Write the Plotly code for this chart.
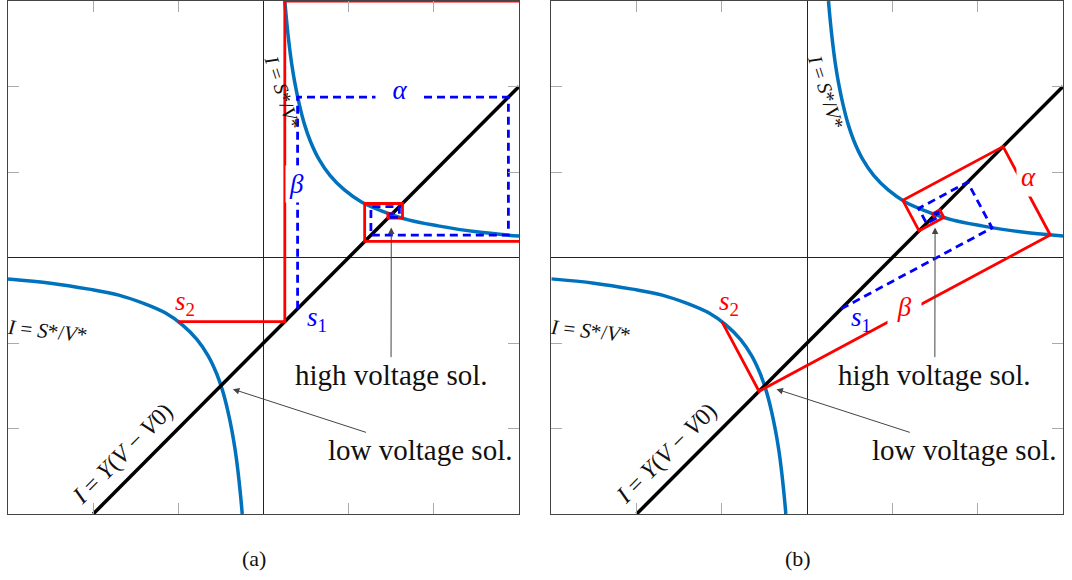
import plotly.graph_objects as go

# ---------------- data ----------------
# hyperbola I = S*/V*  (upper and lower branches)
CURVE_UP_V = [0.25, 0.27, 0.30, 0.33, 0.37, 0.42, 0.48, 0.55, 0.65, 0.78, 0.95, 1.15, 1.40, 1.70, 2.05, 2.50, 3.00]
CURVE_UP_I = [3.00, 2.78, 2.50, 2.27, 2.03, 1.79, 1.56, 1.36, 1.15, 0.96, 0.79, 0.65, 0.54, 0.44, 0.37, 0.30, 0.25]
CURVE_LO_V = [-3.00, -2.50, -2.05, -1.70, -1.40, -1.15, -0.95, -0.78, -0.65, -0.55, -0.48, -0.42, -0.37, -0.33, -0.30, -0.27, -0.25]
CURVE_LO_I = [-0.25, -0.30, -0.37, -0.44, -0.54, -0.65, -0.79, -0.96, -1.15, -1.36, -1.56, -1.79, -2.03, -2.27, -2.50, -2.78, -3.00]
# straight line I = Y(V - V0)
LINE_V = [-2.0, 3.0]
LINE_I = [-3.0, 2.0]

# panel (a): iteration paths
RED_A_V = [-1.0, 0.25, 0.25, 4.0, 4.0, 1.1875, 1.1875, 1.6316, 1.6316, 1.4597, 1.4597, 1.5138, 1.5138, 1.4954, 1.4954]
RED_A_I = [-0.75, -0.75, 3.0, 3.0, 0.1875, 0.1875, 0.6316, 0.6316, 0.4597, 0.4597, 0.5138, 0.5138, 0.4954, 0.4954, 0.5015]
BLUE_A_V = [0.4, 0.4, 2.875, 2.875, 1.2609, 1.2609, 1.5948, 1.5948, 1.4703, 1.4703, 1.5101, 1.5101]
BLUE_A_I = [-0.6, 1.875, 1.875, 0.2609, 0.2609, 0.5948, 0.5948, 0.4703, 0.4703, 0.5101, 0.5101, 0.4967]

# panel (b): iteration paths
RED_B_V = [-1.0, -0.5643, 2.8513, 2.2978, 1.1218, 1.3124, 1.6030, 1.5559, 1.4703, 1.4842, 1.5085]
RED_B_I = [-0.75, -1.5643, 0.2630, 1.2978, 0.6686, 0.3124, 0.4679, 0.5559, 0.5101, 0.4842, 0.4972]
BLUE_B_V = [0.4, 2.1681, 1.8815, 1.3067, 1.3998, 1.5544, 1.5293, 1.4844]
BLUE_B_I = [-0.6, 0.3459, 0.8815, 0.5740, 0.3998, 0.4825, 0.5293, 0.5053]

CAPTIONS = ["(a)", "(b)"]

# ---------------- styling ----------------
FONT = "Liberation Serif, 'Times New Roman', 'DejaVu Serif', serif"
C_CURVE = "rgb(0,114,189)"
C_RED = "#ff0000"
C_BLUE = "#0000ff"
C_TXT = "#111111"
NB = "\u00a0"

fig = go.Figure()


def add_panel(xa, ya, red_v, red_i, blue_v, blue_i):
    common = dict(xaxis=xa, yaxis=ya, mode="lines", hoverinfo="skip", showlegend=False)
    fig.add_trace(go.Scatter(x=CURVE_UP_V, y=CURVE_UP_I, line=dict(color=C_CURVE, width=3.5, shape="spline"), **common))
    fig.add_trace(go.Scatter(x=CURVE_LO_V, y=CURVE_LO_I, line=dict(color=C_CURVE, width=3.5, shape="spline"), **common))
    fig.add_trace(go.Scatter(x=LINE_V, y=LINE_I, line=dict(color="black", width=3.5), **common))
    fig.add_trace(go.Scatter(x=red_v, y=red_i, line=dict(color=C_RED, width=2.8), **common))
    fig.add_trace(go.Scatter(x=blue_v, y=blue_i, line=dict(color=C_BLUE, width=2.8, dash="8px,5px"), **common))


add_panel("x", "y", RED_A_V, RED_A_I, BLUE_A_V, BLUE_A_I)
add_panel("x2", "y2", RED_B_V, RED_B_I, BLUE_B_V, BLUE_B_I)

axis_common = dict(range=[-3, 3], showgrid=False, zeroline=True, zerolinecolor="#222222", zerolinewidth=1,
                   showline=True, mirror="ticks", linecolor="#444444", linewidth=1,
                   ticks="inside", ticklen=11, tickwidth=1, tickcolor="#aaaaaa",
                   tickvals=[-2, -1, 1, 2], showticklabels=False, fixedrange=True)

fig.update_layout(
    width=1072, height=580,
    margin=dict(l=8, r=9, t=1, b=66),
    paper_bgcolor="white", plot_bgcolor="white",
    font=dict(family=FONT),
    showlegend=False, hovermode=False,
    xaxis=dict(domain=[0, 0.4844], anchor="y", **axis_common),
    yaxis=dict(domain=[0, 1], anchor="x", **axis_common),
    xaxis2=dict(domain=[0.515, 1], anchor="y2", **axis_common),
    yaxis2=dict(domain=[0, 1], anchor="x2", **axis_common),
)

annotations = []


def txt(xr, yr, x, y, text, size, color=C_TXT, angle=0, **kw):
    d = dict(xref=xr, yref=yr, x=x, y=y, text=text, showarrow=False, textangle=angle,
             font=dict(family=FONT, size=size, color=color), xanchor="center", yanchor="middle")
    d.update(kw)
    annotations.append(d)


def pointer(xr, yr, text, tip, center, size):
    # label whose arrow points from the text to the solution point
    annotations.append(dict(xref=xr, yref=yr, axref=xr, ayref=yr, x=tip[0], y=tip[1],
                            ax=center[0], ay=center[1], text=text,
                            font=dict(family=FONT, size=size, color=C_TXT), showarrow=True,
                            arrowhead=2, arrowsize=1.3, arrowwidth=1, arrowcolor="#444444"))


LBL_CURVE = "<i>I</i> = <i>S</i>*/<i>V</i>*"
for k, (xr, yr) in enumerate([("x", "y"), ("x2", "y2")]):
    txt(xr, yr, 0.22, 1.93, LBL_CURVE, 20, angle=72)
    txt(xr, yr, -2.54, -0.86, LBL_CURVE, 21, angle=6)
    txt(xr, yr, -1.65, -2.29, "<i>I</i> = <i>Y</i>(<i>V</i> − <i>V</i>0)", 24, angle=-45)
    txt(xr, yr, -0.92, -0.53, "<i>s</i><sub>2</sub>", 27, color=C_RED)
    txt(xr, yr, 0.63, -0.72, "<i>s</i><sub>1</sub>", 27, color=C_BLUE)
    pointer(xr, yr, "high voltage sol.", (1.5, 0.35), (1.497, -1.37), 29)
    pointer(xr, yr, "low voltage sol.", (-0.36, -1.54), (1.837, -2.25), 29)
    if k == 0:
        txt(xr, yr, 1.6, 1.96, NB * 2 + "<i>α</i>" + NB * 2, 27, color=C_BLUE, bgcolor="white", borderpad=3)
        txt(xr, yr, 0.39, 0.86, "<i>β</i>", 27, color=C_BLUE, bgcolor="white", borderpad=3)
    else:
        txt(xr, yr, 2.59, 0.94, "<i>α</i>", 27, color=C_RED, bgcolor="white", borderpad=4)
        txt(xr, yr, 1.146, -0.58, NB + "<i>β</i>" + NB, 27, color=C_RED, bgcolor="white", borderpad=3)

txt("paper", "paper", 0.2332, -0.0858, CAPTIONS[0], 22)
txt("paper", "paper", 0.7488, -0.0858, CAPTIONS[1], 22)

fig.update_layout(annotations=annotations)
fig.write_html("out.html", config={"displayModeBar": False},
               post_script="document.body.style.margin='0';")
